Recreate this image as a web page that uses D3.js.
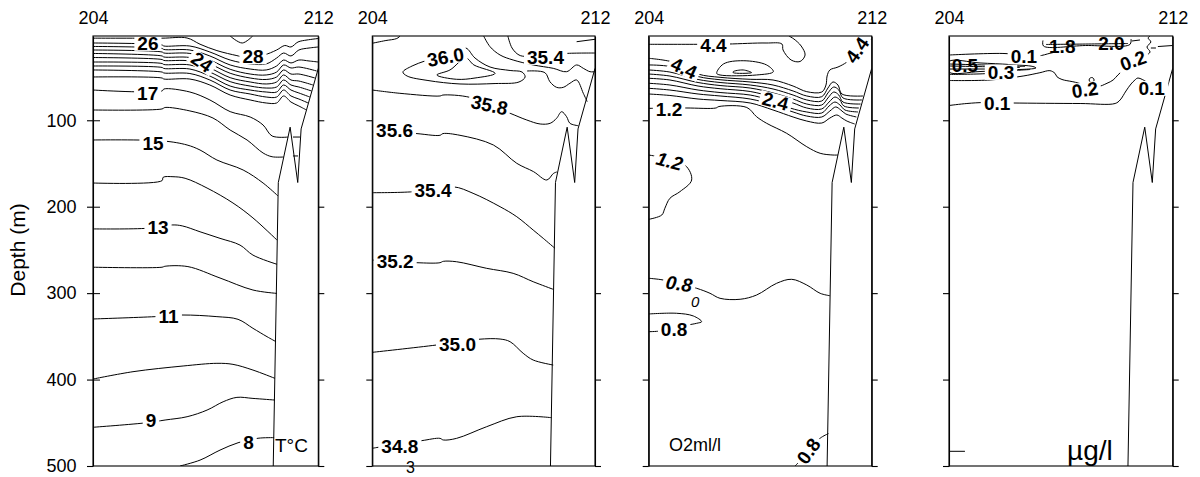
<!DOCTYPE html>
<html>
<head>
<meta charset="utf-8">
<script src="https://cdn.jsdelivr.net/npm/d3@7"></script>
<style>
  body { margin: 0; background: #fff; }
  svg { display: block; }
  text { font-family: "Liberation Sans", Arial, Helvetica, sans-serif; fill: #000; }
</style>
</head>
<body>
<svg id="chart" width="1200" height="477"></svg>
<script>
// ---- section geometry -------------------------------------------------
const stationRange = [204, 212];          // station numbers along the section
const depthRange = [2.5, 500];            // metres
const depthTicks = [100, 200, 300, 400, 500];

// sea-floor / data limit along the right of every section
const bottomProfile = [[212, 40], [211.39, 110], [211.27, 172], [211.0, 108], [210.58, 172], [210.4, 500]];

// ---- temperature (°C): isotherms as [station, depth] ---------------------
const tempContours = [
  [[204,5.0],[206.45,5.0],[207.34,4.8],[207.8,12.0],[208.4,19.4],[209.11,25.2],[209.33,26.6],[210.06,24.5],[210.52,18.7],[210.81,13.5],[211.03,15.2],[211.28,9.4],[211.6,7.1],[212,5.4]],
  [[208.87,2.5],[209.3,10.6],[209.67,2.5]],
  [[204,10.6],[206.45,12.9],[206.52,14.1],[207.44,14.1],[208.15,21],[208.87,30.3],[209.58,34.8],[210.15,34.8],[210.52,28],[210.77,22.2],[211.03,25.6],[211.31,18.7],[211.67,16.4],[212,15.2]],
  [[204,14.6],[206.45,16.9],[206.52,18.1],[207.44,18.7],[208.15,25.6],[208.87,36],[209.58,40.7],[210.15,41.8],[210.52,37.2],[210.77,30.3],[211.03,33.7],[211.31,30.3],[211.67,31.4],[212,32.6]],
  [[204,18.7],[206.45,21],[206.52,22.2],[207.44,22.7],[208.15,30.3],[208.87,41],[209.58,46.5],[210.15,47.6],[210.52,44.2],[210.77,36],[211.03,39.5],[211.31,38.4],[211.94,43]],
  [[204,22.7],[206.45,25.6],[206.52,26.8],[207.44,27.4],[208.15,34.8],[208.87,45.6],[209.58,51.1],[210.15,52.8],[210.52,49.9],[210.77,41.8],[211.03,46.5],[211.31,46.5],[211.88,51.1]],
  [[204,27.4],[206.45,29.7],[206.52,30.8],[207.44,31.4],[208.15,39.5],[208.87,50.7],[209.58,55.7],[210.15,58],[210.52,55.7],[210.77,47.6],[211.03,53.4],[211.31,54.6],[211.81,59.2]],
  [[204,32.6],[206.45,34.3],[206.52,35.5],[207.44,36],[208.15,44.2],[208.87,55.3],[209.58,60.4],[210.15,62.7],[210.52,61.5],[210.77,53.4],[211.03,59.2],[211.31,61.5],[211.76,66.1]],
  [[204,37.2],[206.45,38.9],[206.52,40.1],[207.44,40.7],[208.15,48.8],[208.87,60.4],[209.58,65],[210.15,67.3],[210.52,67.3],[210.77,59.2],[211.03,65],[211.31,68.4],[211.70,73.1]],
  [[204,41.8],[206.45,44.2],[206.52,45.3],[207.44,45.9],[208.15,53.4],[208.87,65],[209.58,69.6],[210.15,73.1],[210.52,73.1],[210.77,65],[211.03,71.9],[211.31,75.4],[211.64,80]],
  [[204,49.9],[206.45,51.1],[206.52,52.3],[207.44,52.3],[208.15,59.2],[208.87,70.8],[209.58,76.5],[210.15,80],[210.52,80],[210.77,71.9],[211.03,78.9],[211.31,83.5],[211.58,88.1]],
  [[204,65],[206.45,66.1],[206.52,63.8],[207.44,67.3],[208.15,76.5],[208.87,90],[209.58,96.2],[210.04,105.5],[210.36,118.2],[210.93,119.4]],
  [[211.10,119.4],[211.35,119.4]],
  [[204,88.1],[206.45,86.9],[206.56,85.2],[207.44,89.2],[208.26,97.4],[208.87,111.3],[209.47,122.8],[210.04,137.9],[210.36,142.2],[210.77,142.5]],
  [[211.10,141.3],[211.28,141.3]],
  [[204,122.8],[206.48,123.9],[207.34,128.6],[207.8,134.4],[208.4,146],[209.33,157.5],[210.04,172.6],[210.57,187.6]],
  [[204,172.6],[206.45,169.9],[206.49,166],[206.84,165.3],[207.27,167.1],[208.05,178.4],[208.97,195.7],[209.68,213],[210.53,238.5]],
  [[204,225.7],[205.95,224.9],[206.81,221.1],[207.17,222.2],[207.8,229],[208.51,236.6],[209.22,244.4],[209.68,256],[210.53,266.6]],
  [[204,270],[206.45,270],[206.56,268.9],[207.37,269.3],[208.51,282.5],[209.68,296.4],[210.53,300.3]],
  [[204,329.9],[206.2,327.2],[207.16,325.3],[208.4,327.2],[209.15,330.3],[209.68,340.7],[210.18,350.4],[210.5,356.2]],
  [[204,399.4],[205.42,390.9],[207.2,384.3],[208.4,381.2],[208.97,382.4],[209.68,389],[210.46,398.6]],
  [[204,455.2],[205.92,449.9],[206.56,446.8],[207.34,443],[208.05,435.3],[208.62,425.7],[209.11,420.6],[209.68,421.8],[210.46,423.7]],
  [[207.09,500],[207.8,493.2],[208.51,481.6],[209.15,473.1],[209.86,467.9],[210.43,467.2]]
];
// label text, station, depth, rotation (deg)
const tempLabels = [
  ["26", 205.95, 10.6, 0], ["24", 207.87, 32.6, 35], ["28", 209.68, 26.2, 0],
  ["17", 205.94, 68.4, 0], ["15", 206.13, 126.3, 0], ["13", 206.31, 223.5, 0],
  ["11", 206.68, 326.5, 0], ["9", 206.06, 446.8, 0], ["8", 209.52, 472.2, 0]
];

// ---- salinity ----------------------------------------------------------
const salContours = [
  [[204,10.9],[204.46,7.9],[204.88,5.4],[205.0,2.5]],
  [[208.0,2.5],[208.23,14.9],[208.59,24.5],[209.06,30.3],[209.78,36],[210.5,39.9],[210.98,43.8],[211.34,36],[211.58,39.9],[211.82,43.8],[212,43.8]],
  [[208.87,2.5],[209.02,16.4],[209.27,24.5],[209.56,26.2],[210.92,22.7],[212,22.2]],
  [[211.34,9.1],[212,6.3]],
  [[209.56,43],[210.2,44.9],[210.38,55.4],[210.62,61.9],[210.86,61.9],[211.1,57.2],[211.34,53.4],[211.58,68.8],[211.72,78.5]],
  [[204,65],[204.99,68.8],[206.43,71.9],[206.54,70.8],[207.51,73.5],[208.95,91.9],[209.55,99.7],[210.03,104.3],[210.39,103.5],[210.62,97.7],[210.8,90.1],[210.98,95.9],[211.1,103.5],[211.4,106.3]],
  [[204,113.6],[205.47,115.1],[206.43,117.4],[206.54,115.4],[207.15,117.4],[208.35,128.6],[209.19,149.8],[209.79,159.4],[210.27,169.1],[210.51,161.4],[210.63,159.8]],
  [[204,183.8],[205.46,182.7],[206.9,176.9],[207.62,184.5],[208.59,200],[209.19,211.6],[209.78,227],[210.14,236.6],[210.56,248.1]],
  [[204,261.7],[205.59,264.8],[206.43,264.8],[206.55,263.2],[207.03,263.7],[208.11,271.3],[209.06,277.1],[209.78,286.8],[210.5,295.6]],
  [[204,368.5],[206.31,360],[207.81,353.4],[208.59,353.1],[208.95,356.2],[209.42,369.6],[209.78,377.4],[210.5,383.2]],
  [[204,479.5],[204.34,477.7],[205.77,470.7],[206.43,468],[206.55,469.9],[207.03,468],[208.11,454.5],[209.19,443],[210.44,444.1]]
];
const salClosed = [
  [[205.1,44.2],[205.43,37.2],[205.89,31.4],[206.43,25.6],[206.97,19.9],[207.36,16.4],[207.69,28],[208.23,38.4],[208.95,42.4],[209.38,44.2],[209.49,49.9],[209.27,55.7],[208.41,57.5],[207.15,58],[206.0,54],[205.25,48.8]],
  [[206.32,47.6],[206.79,41.8],[207.36,28],[207.65,36],[208.41,45.7],[207.69,51.1],[207.03,52.6]]
];
const salLabels = [
  ["36.0", 206.63, 26.8, -10], ["35.4", 210.22, 26.8, 0], ["35.8", 208.21, 82.3, 12],
  ["35.6", 204.8, 111.8, 0], ["35.4", 206.18, 181.3, 0], ["35.2", 204.82, 262.8, 0],
  ["35.0", 207.06, 359.4, 0], ["34.8", 204.99, 476.5, 0]
];

// ---- dissolved oxygen (ml/l) -------------------------------------------
const oxyContours = [
  [[204,12.1],[205.84,12.1],[206.84,11.8],[208.21,10.6],[208.78,11.8],[208.82,18.7],[209.11,30.3],[209.43,32],[209.61,24.5],[209.47,14.1],[209.21,6],[209.03,2.5]],
  [[204,28.3],[204.94,33.2],[205.77,46.5],[206.56,50.3],[207.64,52.6],[208.46,53.4],[209.18,60.4],[209.67,66.9],[210.21,67.3],[210.36,59.2],[210.4,48.8],[210.5,41.8],[210.79,38.4],[211.11,32.6],[211.83,10.6],[212,6]],
  [[204,36],[204.76,37.8],[205.77,49.4],[206.56,53.1],[207.64,55.7],[208.46,59.2],[209.18,66.1],[209.67,71.9],[210.21,72.7],[210.43,62.7],[210.61,55.7],[210.79,59.2],[210.93,69.6],[211.69,71.9]],
  [[204,41.8],[204.76,44.2],[205.77,52.8],[206.56,56.3],[207.64,59.2],[208.46,63.8],[209.18,70.8],[209.67,76.5],[210.21,77.7],[210.43,68.4],[210.64,61.5],[210.82,65],[210.97,74.2],[211.65,76.5]],
  [[204,46.5],[204.76,48.8],[205.77,56.3],[206.56,59.8],[207.64,62.7],[208.46,68.4],[209.18,75.4],[209.67,81.2],[210.21,82.3],[210.43,74.2],[210.64,67.3],[210.82,70.8],[210.97,78.9],[211.6,81.2]],
  [[204,51.4],[204.76,53.4],[205.77,60.4],[206.56,63.5],[207.64,66.7],[208.46,73.1],[209.18,80],[209.67,85.8],[210.21,86.9],[210.47,78.9],[210.68,73.1],[210.86,76.5],[211.0,83.5],[211.54,85.8]],
  [[204,57.2],[204.76,59.2],[205.77,65],[206.56,67.9],[207.64,70.8],[208.2,75.4],[209.07,85.8],[209.67,90.4],[210.21,91.6],[210.47,83.5],[210.68,78.9],[210.86,82.3],[211.04,88.1],[211.51,90.4]],
  [[204,63],[204.76,65],[205.77,69.6],[206.56,71.9],[207.64,75.4],[208.46,82.3],[209.18,90.4],[209.67,95.1],[210.21,96.2],[210.5,89.3],[210.71,84.6],[210.89,88.1],[211.07,92.7],[211.45,96.2]],
  [[204,69.6],[204.76,71.3],[205.77,75.4],[206.56,77.1],[207.64,80],[208.46,88.1],[209.18,96.2],[209.67,100.9],[210.21,103.2],[210.5,97.4],[210.75,93.9],[210.93,97.4],[211.11,100.9],[211.39,104.3]],
  [[204,86.2],[205.34,85.8],[206.41,85.8],[206.52,84.1],[207.52,85.2],[207.87,95.9],[208.23,103.5],[208.95,115.1],[209.67,130.6],[210.15,138.2],[210.61,140.2],[210.79,140.2]],
  [[204,140.2],[205.3,151.8],[205.54,169.1],[205.12,182.6],[204.76,190.3],[204.58,201.8],[204.47,209.6],[204,214.6]],
  [[204,282.8],[204.52,284.8],[205.72,294.4],[206.2,300.2],[206.56,306],[207.28,307.1],[207.87,302.2],[208.59,288.6],[209.13,284],[209.67,290.6],[210.15,300.2],[210.5,303]],
  [[204,324.1],[205.0,323.3],[205.6,326.4],[205.9,333],[205.72,334.9],[205.42,336.8],[204.41,343.8],[204,344.6]],
  [[209.25,500],[209.72,484.1],[210.15,467.9],[210.45,462.5]]
];
const oxyClosed = [
  [[206.44,45.7],[206.68,34.9],[207.39,31.1],[208.23,36],[208.47,43.8],[207.87,47.6],[206.56,47.6]],
  [[207.03,43.8],[207.39,41.8],[207.69,44.9],[207.03,44.9]]
];
const oxyLabels = [
  ["4.4", 206.32, 13.5, 0], ["4.4", 205.27, 39.5, 25], ["4.4", 211.47, 18.7, -55],
  ["2.4", 208.55, 77.7, 15], ["1.2", 204.73, 87, 0], ["1.2", 204.75, 147.1, 15, "italic"],
  ["0.8", 205.09, 288.9, 8, "italic"], ["0.8", 204.91, 341.8, 0], ["0.8", 209.73, 482.6, -55]
];

// ---- chlorophyll (µg/l) ------------------------------------------------
const chlContours = [
  [[207.36,7.7],[207.38,14.1],[208.88,13.5],[210.47,12.3],[210.51,6]],
  [[207.47,12.3],[208.88,11.8],[210.4,11.2]],
  [[210.54,8.3],[210.83,7.1]],
  [[204,24.5],[205.93,22.7],[207.18,25.6],[207.61,22.5],[207.86,20.7]],
  [[204,34.9],[205.82,36.6],[206.72,37.8]],
  [[204,37.2],[205.82,38.4],[206.54,38.9]],
  [[204,40.7],[205.47,40.7]],
  [[204,47],[205.39,45.9],[206.29,42.6],[206.9,41.3]],
  [[204,54],[205.47,53.4],[206.65,48.8],[207.25,45],[207.61,42.6],[207.79,45.7],[207.86,49.6],[208.04,52.8],[208.43,55.4],[209.29,61.2],[209.65,57.2],[209.87,53.4],[210.04,47.6],[210.22,41.8],[210.29,38],[211.01,25.6],[211.19,21],[211.08,15.2],[211.22,9.4],[211.12,4.8],[211.19,2.5]],
  [[204,82.9],[204.64,80.6],[205.29,79.4],[206.25,80],[208.69,80.6],[209.94,80.6],[210.12,76.5],[210.33,66.1],[210.51,58],[210.65,53.4],[210.76,51.1],[211.62,65.6],[211.81,65]],
  [[211.22,16.4],[211.4,16.4]],
  [[211.47,14.7],[212,13.5]],
  [[204,483],[204.57,483]]
];
const chlClosed = [
  [[204,32],[205.11,33.7],[206.18,35.5],[207.0,37.8],[207.11,39.5],[206.18,41.8],[205.11,43.6],[204,44.2]],
  [[209.19,53.4],[209.145,55.9],[209.055,55.9],[209.01,53.4],[209.055,50.9],[209.145,50.9]]
];
const chlLabels = [
  ["0.1", 206.68, 26.2, 0], ["0.3", 205.86, 44.2, 0], ["0.2", 210.58, 30.8, -20],
  ["0.2", 208.86, 64.5, -8], ["0.1", 205.72, 80.6, 0], ["0.1", 211.25, 62.7, 0]
];
// labels printed over their own lines (no knock-out)
const chlBareLabels = [["1.8", 208.05, 14.0, 0], ["2.0", 209.81, 11.2, 0], ["0.5", 204.57, 36.6, 0]];

// ---- drawing -----------------------------------------------------------
const svg = d3.select("#chart");
const TOP = 36, BOTTOM = 466;
const frames = [[93, 318.3], [372.3, 595], [648.7, 871.7], [949, 1172.7]];
const LABEL_SIZE = "19px";

const panels = [
  { open: tempContours, closed: [], labels: tempLabels, bare: [] },
  { open: salContours, closed: salClosed, labels: salLabels, bare: [] },
  { open: oxyContours, closed: oxyClosed, labels: oxyLabels, bare: [] },
  { open: chlContours, closed: chlClosed, labels: chlLabels, bare: chlBareLabels }
];

const y = d3.scaleLinear().domain(depthRange).range([TOP, BOTTOM]);

panels.forEach((p, i) => {
  const x = d3.scaleLinear().domain(stationRange).range(frames[i]);
  const g = svg.append("g");
  const clipId = "clip" + i;
  svg.append("clipPath").attr("id", clipId).append("rect")
    .attr("x", x(204)).attr("y", TOP).attr("width", x(212) - x(204)).attr("height", BOTTOM - TOP);
  const body = g.append("g").attr("clip-path", `url(#${clipId})`);

  const line = d3.line().x(d => x(d[0])).y(d => y(d[1])).curve(d3.curveCatmullRom.alpha(0.5));
  const loop = d3.line().x(d => x(d[0])).y(d => y(d[1])).curve(d3.curveCatmullRomClosed.alpha(0.5));

  body.selectAll("path.c").data(p.open).join("path").attr("class", "c")
    .attr("d", line).attr("fill", "none").attr("stroke", "#000").attr("stroke-width", 1);
  body.selectAll("path.k").data(p.closed).join("path").attr("class", "k")
    .attr("d", loop).attr("fill", "none").attr("stroke", "#000").attr("stroke-width", 1);

  // data limit
  body.append("path").datum(bottomProfile)
    .attr("d", d3.line().x(d => x(d[0])).y(d => y(d[1])))
    .attr("fill", "none").attr("stroke", "#000").attr("stroke-width", 1);

  // contour labels with knock-out background
  p.labels.forEach(([t, s, d, a, style]) => {
    const lg = body.append("g").attr("transform", `translate(${x(s)},${y(d)}) rotate(${a})`);
    const rect = lg.append("rect").attr("fill", "#fff");
    const txt = lg.append("text").text(t).attr("text-anchor", "middle").attr("dy", "0.36em")
      .style("font-size", LABEL_SIZE).style("font-weight", "bold")
      .style("font-style", style === "italic" ? "italic" : "normal");
    const bb = txt.node().getBBox();
    rect.attr("x", bb.x - 3).attr("y", bb.y + 3).attr("width", bb.width + 6).attr("height", bb.height - 6);
  });
  p.bare.forEach(([t, s, d, a]) => {
    body.append("text").text(t)
      .attr("transform", `translate(${x(s)},${y(d)}) rotate(${a})`)
      .attr("text-anchor", "middle").attr("dy", "0.36em")
      .style("font-size", LABEL_SIZE).style("font-weight", "bold");
  });

  // frame
  g.append("rect").attr("x", x(204)).attr("y", TOP).attr("width", x(212) - x(204)).attr("height", BOTTOM - TOP)
    .attr("fill", "none").attr("stroke", "#000").attr("stroke-width", 1.1);

  // depth axes on both sides
  const left = g.append("g").attr("transform", `translate(${x(204)},0)`)
    .call(d3.axisLeft(y).tickValues(depthTicks).tickSizeInner(6).tickSizeOuter(0).tickPadding(10.5)
      .tickFormat(i === 0 ? d3.format("d") : () => ""));
  if (i === 0) {
    g.append("g").attr("transform", `translate(${x(204)},0)`)
      .call(d3.axisRight(y).tickValues(depthTicks.slice(0, 4)).tickSizeInner(7).tickSizeOuter(0).tickFormat(() => ""))
      .select(".domain").remove();
  }
  const right = g.append("g").attr("transform", `translate(${x(212)},0)`)
    .call(d3.axisRight(y).tickValues(depthTicks).tickSizeInner(6).tickSizeOuter(0).tickFormat(() => ""));
  [left, right].forEach(a => {
    a.selectAll("line").attr("stroke", "#000").attr("stroke-width", 1.1);
    a.select(".domain").attr("stroke", "#000").attr("stroke-width", 1.1);
    a.selectAll("text").style("font-size", "18px").attr("fill", "#000");
  });

  // station numbers along the top
  const top = g.append("g").attr("transform", `translate(0,${TOP})`)
    .call(d3.axisTop(x).tickValues(stationRange).tickSize(0).tickPadding(12).tickFormat(d3.format("d")));
  top.select(".domain").remove();
  top.selectAll("text").style("font-size", "18px").attr("fill", "#000");
});

// unit captions and stray annotation digits
const unitText = (px, py, t, size) => svg.append("text").attr("x", px).attr("y", py).text(t).style("font-size", size);
unitText(275, 452, "T°C", "19px");
unitText(669, 451, "O2ml/l", "18px");
unitText(1067, 460, "µg/l", "28px");
unitText(406, 473, "3", "16px");
unitText(691, 307, "0", "15px").style("font-style", "italic");

svg.append("text").attr("transform", "translate(25,250) rotate(-90)")
  .attr("text-anchor", "middle").text("Depth (m)").style("font-size", "21px");
</script>
</body>
</html>
